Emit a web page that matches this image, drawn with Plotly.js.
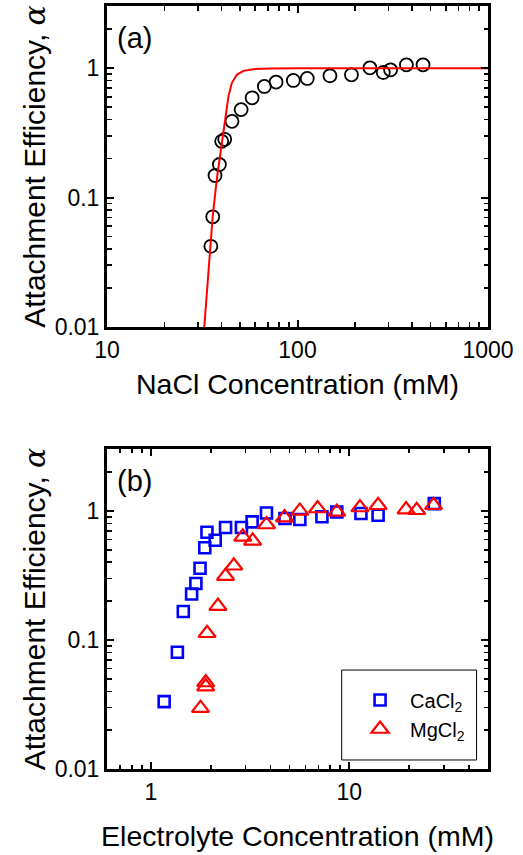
<!DOCTYPE html>
<html>
<head>
<meta charset="utf-8">
<script src="https://cdn.plot.ly/plotly-3.0.1.min.js"></script>
<style>
html,body{margin:0;padding:0;background:#fff;}
#chart{width:523px;height:855px;}
</style>
</head>
<body>
<div id="chart"></div>
<script>
// Panel (a): NaCl
const naclConc = [35.1, 35.9, 36.9, 38.9, 40.0, 41.5, 45.3, 50.6, 57.8, 67.0, 77.2, 95.1, 112.5, 148, 192, 240, 282, 308, 373, 456];
const naclAlpha = [0.042, 0.071, 0.148, 0.180, 0.272, 0.282, 0.388, 0.478, 0.590, 0.722, 0.780, 0.803, 0.832, 0.873, 0.888, 1.005, 0.925, 0.970, 1.06, 1.06];
// fitted curve
const fitConc = [32.4, 35.1, 35.9, 37.7, 39.6, 40.8, 42.0, 43.4, 45.2, 48.0, 52.0, 58.6, 71.8, 100, 1000];
const fitAlpha = [0.0100, 0.0424, 0.0722, 0.138, 0.235, 0.335, 0.451, 0.605, 0.767, 0.888, 0.953, 0.982, 0.993, 1.0, 1.0];

// Panel (b): divalent salts
const caConc = [1.165, 1.358, 1.455, 1.602, 1.684, 1.767, 1.867, 1.915, 2.107, 2.376, 2.857, 3.234, 3.821, 4.737, 5.628, 7.273, 8.644, 11.44, 13.96, 26.8];
const caAlpha = [0.0333, 0.0803, 0.166, 0.227, 0.274, 0.360, 0.519, 0.684, 0.593, 0.744, 0.744, 0.822, 0.965, 0.873, 0.858, 0.902, 0.982, 0.955, 0.926, 1.14];
const mgConc = [1.777, 1.888, 1.888, 1.917, 2.175, 2.376, 2.615, 2.90, 3.253, 3.821, 4.71, 5.628, 6.92, 8.644, 11.31, 13.96, 19.32, 21.85, 26.57];
const mgAlpha = [0.0296, 0.0468, 0.0435, 0.1127, 0.183, 0.313, 0.376, 0.629, 0.586, 0.785, 0.889, 1.0, 1.044, 0.982, 1.063, 1.107, 1.025, 1.012, 1.107];

// tick labels
const xTicksA = [10, 100, 1000];
const xTextA = ['10', '100', '1000'];
const xTicksB = [1, 10];
const xTextB = ['1', '10'];
const yTicks = [0.01, 0.1, 1];
const yText = ['0.01', '0.1', '1'];
const minorDigits = [2, 3, 4, 5, 6, 7, 8, 9];

// minor log ticks (2..9 within each decade) between lo and hi
function minorTicks(lo, hi) {
  const out = [];
  for (let e = Math.floor(Math.log10(lo)); e <= Math.ceil(Math.log10(hi)); e++) {
    minorDigits.forEach(function (d) {
      const v = d * Math.pow(10, e);
      if (v > lo * 1.0001 && v < hi * 0.9999) out.push(v);
    });
  }
  return out;
}

const FONT = 'Liberation Sans, Arial, Helvetica, sans-serif';
const yTitle = 'Attachment Efficiency, <span style="font-family:DejaVu Serif, serif"><i>α</i></span>';

const traces = [
  {x: naclConc, y: naclAlpha, type: 'scatter', mode: 'markers', xaxis: 'x', yaxis: 'y', showlegend: false,
   marker: {symbol: 'circle-open', size: 13, color: '#000', line: {width: 1.8, color: '#000'}}},
  {x: fitConc, y: fitAlpha, type: 'scatter', mode: 'lines', xaxis: 'x', yaxis: 'y', showlegend: false,
   line: {color: '#ff0000', width: 2}},
  {x: caConc, y: caAlpha, type: 'scatter', mode: 'markers', xaxis: 'x2', yaxis: 'y2', name: 'CaCl<sub>2</sub>',
   marker: {symbol: 'square-open', size: 11, color: '#0000ff', line: {width: 2.6, color: '#0000ff'}}},
  {x: mgConc, y: mgAlpha, type: 'scatter', mode: 'markers', xaxis: 'x2', yaxis: 'y2', name: 'MgCl<sub>2</sub>',
   marker: {symbol: 'triangle-up-open', size: 15, color: '#ff0000', line: {width: 2.2, color: '#ff0000'}}}
];

function logAxis(extra, lo, hi) {
  return Object.assign({
    type: 'log', tickmode: 'array', showgrid: false, zeroline: false,
    showline: true, linecolor: '#000', linewidth: 3, mirror: 'ticks',
    ticks: 'inside', ticklen: 7, tickwidth: 2, tickcolor: '#000',
    tickfont: {family: FONT, size: 23, color: '#000'},
    minor: {tickmode: 'array', tickvals: minorTicks(lo, hi), ticks: 'inside', ticklen: 4.5, tickwidth: 1.6,
            tickcolor: '#000', showgrid: false},
    automargin: false
  }, extra);
}

const titleFont = {family: FONT, size: 28.5, color: '#000'};
const yTitleFont = {family: FONT, size: 30, color: '#000'};

const layout = {
  width: 523, height: 855,
  paper_bgcolor: '#fff', plot_bgcolor: '#fff',
  margin: {l: 107, r: 35, t: 6, b: 86},
  font: {family: FONT, color: '#000'},
  xaxis: logAxis({domain: [0, 1], anchor: 'y', range: [1, 3], tickvals: xTicksA, ticktext: xTextA,
    title: {text: 'NaCl Concentration (mM)', font: titleFont, standoff: 13}}, 10, 1000),
  yaxis: logAxis({domain: [0.5793, 1], anchor: 'x', range: [-2, 0.48], tickvals: yTicks, ticktext: yText,
    title: {text: yTitle, font: yTitleFont, standoff: 1}}, 0.01, 3.02),
  xaxis2: logAxis({domain: [0, 1], anchor: 'y2', range: [Math.log10(0.6), Math.log10(50)], tickvals: xTicksB, ticktext: xTextB,
    title: {text: 'Electrolyte Concentration (mM)', font: titleFont, standoff: 23}}, 0.6, 50),
  yaxis2: logAxis({domain: [0, 0.4194], anchor: 'x2', range: [-2, 0.48], tickvals: yTicks, ticktext: yText,
    title: {text: yTitle, font: yTitleFont, standoff: 1}}, 0.01, 3.02),
  showlegend: true,
  legend: {x: 0.638, y: 0.116, xanchor: 'left', yanchor: 'top', bgcolor: 'rgba(0,0,0,0)', borderwidth: 0,
    itemwidth: 50, font: {family: FONT, size: 20, color: '#000'}},
  shapes: [
    {type: 'rect', xref: 'paper', yref: 'paper', x0: 0.616, x1: 0.970, y0: 0.0118, y1: 0.1297,
     line: {color: '#000', width: 1}, fillcolor: 'rgba(0,0,0,0)'}
  ],
  annotations: [
    {text: '(a)', xref: 'x domain', yref: 'y domain', x: 0.02, y: 0.955, xanchor: 'left', yanchor: 'top',
     showarrow: false, font: {family: FONT, size: 29, color: '#000'}},
    {text: '(b)', xref: 'x2 domain', yref: 'y2 domain', x: 0.02, y: 0.955, xanchor: 'left', yanchor: 'top',
     showarrow: false, font: {family: FONT, size: 29, color: '#000'}}
  ]
};

Plotly.newPlot('chart', traces, layout, {displayModeBar: false, staticPlot: true});
</script>
</body>
</html>
